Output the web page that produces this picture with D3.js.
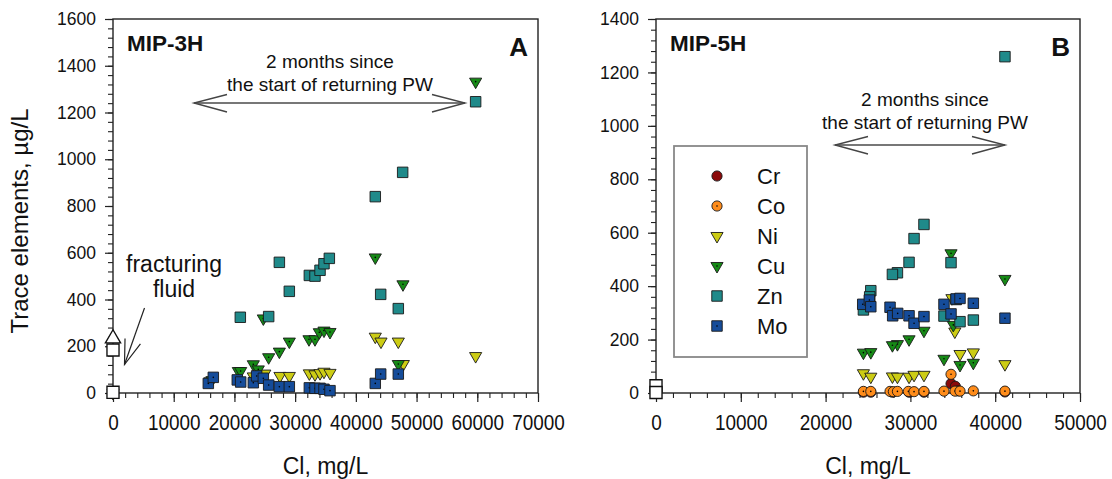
<!DOCTYPE html>
<html>
<head>
<meta charset="utf-8">
<script src="https://cdn.jsdelivr.net/npm/d3@7"></script>
<style>
  html, body { margin: 0; padding: 0; background: #fff; }
  svg { display: block; }
  text { font-family: "Liberation Sans", Arial, sans-serif; fill: #111; }
</style>
</head>
<body>
<svg id="chart" width="1112" height="479"></svg>
<script>
// ---------------- DATA ----------------
const elements = ["Cr", "Co", "Ni", "Cu", "Zn", "Mo"];

const xTicksA = [0, 10000, 20000, 30000, 40000, 50000, 60000, 70000];
const yTicksA = [0, 200, 400, 600, 800, 1000, 1200, 1400, 1600];
const xTicksB = [0, 10000, 20000, 30000, 40000, 50000];
const yTicksB = [0, 200, 400, 600, 800, 1000, 1200, 1400];

// MIP-3H  [Cl mg/L, value µg/L]
const mip3H_Cr = [];
const mip3H_Co = [];
const mip3H_Ni = [[59730,158],[43200,241],[44140,220],[46990,220],[47820,124],[27500,73],[29040,73],
  [32340,84],[33270,80],[34100,85],[34750,91],[35740,86],[23110,71],[25000,83],[16000,50],[0,0]];
const mip3H_Cu = [[59730,1332],[43200,580],[47760,465],[24760,319],[29040,220],[27400,177],[25640,153],
  [32280,230],[33270,230],[33980,260],[34750,267],[35740,261],[23110,123],[23930,101],[20640,94],
  [21030,94],[46990,124],[16300,55]];
const mip3H_Zn = [[20970,324],[25640,327],[27400,559],[29040,435],[32340,503],[33270,500],[34100,525],
  [34750,553],[35630,576],[43200,840],[47710,944],[44090,422],[46990,361],[59730,1246]];
const mip3H_Mo = [[15700,41],[16520,67],[20470,56],[21030,47],[23110,44],[23660,73],[24760,63],
  [25640,34],[27400,27],[29040,27],[32340,22],[33270,20],[34100,20],[34750,16],[35740,10],
  [43200,41],[44090,81],[46990,81]];
const mip3H_fluidTri = [[0,233]];
const mip3H_fluidSq = [[0,184],[0,3]];

// MIP-5H
const mip5H_Cr = [[24460,3],[25330,3],[27880,3],[29840,3],[31600,3],[34790,35],[35300,25],[35600,8],[41150,4]];
const mip5H_Co = [[24460,6],[25330,6],[27600,6],[27990,5],[28470,6],[29760,6],[30430,5],[31600,6],
  [33960,7],[34790,70],[35260,7],[35850,7],[37420,8],[41150,7]];
const mip5H_Ni = [[24460,74],[25330,61],[27880,62],[28470,61],[29840,61],[30430,68],[31600,68],
  [35240,230],[35850,146],[37420,152],[41150,108],[34900,355]];
const mip5H_Cu = [[34790,523],[41150,427],[31600,233],[29840,201],[28470,183],[27880,179],[24460,151],
  [25330,153],[33960,128],[35850,105],[37420,113],[35060,255]];
const mip5H_Zn = [[31600,631],[30430,578],[29840,489],[28470,450],[27880,444],[25330,383],[24460,311],
  [34790,488],[33960,288],[35850,267],[37420,273],[41150,1259],[35400,350],[25200,360]];
const mip5H_Mo = [[24380,332],[25160,348],[25330,323],[27600,321],[27910,289],[28500,298],[29840,289],
  [30430,261],[31600,286],[33960,332],[34790,296],[35380,352],[35850,354],[37420,336],[41150,280]];
const mip5H_fluidSq = [[0,27],[0,2]];

// ---------------- STYLE ----------------
const style = {
  Cr: { shape: "circle", fill: "#8b0a0a", dot: false },
  Co: { shape: "circle", fill: "#ff8c1a", dot: true },
  Ni: { shape: "tri",    fill: "#cccc14", dot: false },
  Cu: { shape: "tri",    fill: "#168a16", dot: true },
  Zn: { shape: "square", fill: "#1f8a8a", dot: false },
  Mo: { shape: "square", fill: "#154c9a", dot: true }
};
const symGen = {
  circle: d3.symbol(d3.symbolCircle, 82)(),
  tri: d3.symbol(d3.symbolTriangle, 64)(),
  square: d3.symbol(d3.symbolSquare, 110)()
};

const svg = d3.select("#chart");

function drawMarker(g, x, y, shape, fill, dot) {
  const m = g.append("g").attr("transform", `translate(${x},${y})`);
  m.append("path")
    .attr("d", symGen[shape])
    .attr("transform", shape === "tri" ? "rotate(180)" : null)
    .attr("fill", fill)
    .attr("stroke", "#1a1a1a")
    .attr("stroke-width", 0.9);
  if (dot) m.append("circle").attr("r", 0.8).attr("fill", "#000");
}

function drawPanel(cfg) {
  const x = d3.scaleLinear().domain(cfg.xDomain).range([cfg.left, cfg.right]);
  const y = d3.scaleLinear().domain(cfg.yDomain).range([cfg.bottom, cfg.top]);
  const g = svg.append("g");

  // minor ticks
  const xMinor = d3.range(cfg.xDomain[0], cfg.xDomain[1] + 1, 2000);
  const yMinor = d3.range(cfg.yDomain[0], cfg.yDomain[1] + 1, 40);
  g.append("g").attr("transform", `translate(0,${cfg.bottom})`)
    .call(d3.axisBottom(x).tickValues(xMinor).tickSize(5).tickSizeOuter(0).tickFormat(""))
    .call(a => a.select(".domain").remove())
    .selectAll("line").attr("stroke", "#222").attr("stroke-width", 1.1);
  g.append("g").attr("transform", `translate(${cfg.left},0)`)
    .call(d3.axisLeft(y).tickValues(yMinor).tickSize(5).tickSizeOuter(0).tickFormat(""))
    .call(a => a.select(".domain").remove())
    .selectAll("line").attr("stroke", "#222").attr("stroke-width", 1.1);

  // major ticks
  const xa = g.append("g").attr("transform", `translate(0,${cfg.bottom})`)
    .call(d3.axisBottom(x).tickValues(cfg.xTicks).tickSize(9).tickSizeOuter(0).tickPadding(12).tickFormat(d3.format("d")));
  xa.select(".domain").remove();
  xa.selectAll("line").attr("stroke", "#222").attr("stroke-width", 1.2);
  xa.selectAll("text").attr("font-size", 22).attr("fill", "#111").attr("dy", "0.71em")
    .attr("transform", "scale(0.86,1)");

  const ya = g.append("g").attr("transform", `translate(${cfg.left},0)`)
    .call(d3.axisLeft(y).tickValues(cfg.yTicks).tickSize(8).tickSizeOuter(0).tickPadding(9).tickFormat(d3.format("d")));
  ya.select(".domain").remove();
  ya.selectAll("line").attr("stroke", "#222").attr("stroke-width", 1.2);
  ya.selectAll("text").attr("font-size", 17.5).attr("fill", "#111");

  // frame
  g.append("rect")
    .attr("x", cfg.left).attr("y", cfg.top)
    .attr("width", cfg.right - cfg.left).attr("height", cfg.bottom - cfg.top)
    .attr("fill", "none").attr("stroke", "#222").attr("stroke-width", 1.4);

  // series
  const pts = g.append("g");
  cfg.series.forEach(([name, data]) => {
    const s = style[name];
    data.forEach(d => drawMarker(pts, x(d[0]), y(d[1]), s.shape, s.fill, s.dot));
  });
  // fracturing fluid (open symbols)
  (cfg.fluidTri || []).forEach(d => {
    pts.append("path").attr("d", symGen.tri)
      .attr("transform", `translate(${x(d[0])},${y(d[1])}) scale(1.25)`)
      .attr("fill", "#fff").attr("stroke", "#111").attr("stroke-width", 1.1);
  });
  (cfg.fluidSq || []).forEach(d => {
    pts.append("path").attr("d", symGen.square)
      .attr("transform", `translate(${x(d[0])},${y(d[1])}) scale(1.15)`)
      .attr("fill", "#fff").attr("stroke", "#111").attr("stroke-width", 1.2);
  });

  // labels
  g.append("text").attr("x", cfg.left + 14).attr("y", 51)
    .attr("font-size", 22.5).attr("font-weight", "bold").text(cfg.name);
  g.append("text").attr("x", cfg.right - 10).attr("y", 56).attr("text-anchor", "end")
    .attr("font-size", 26).attr("font-weight", "bold").text(cfg.letter);

  // 2 months annotation
  const ann = cfg.ann;
  g.append("text").attr("x", ann.cx).attr("y", ann.y1).attr("text-anchor", "middle")
    .attr("font-size", 19).text("2 months since");
  g.append("text").attr("x", ann.cx).attr("y", ann.y1 + 23).attr("text-anchor", "middle")
    .attr("font-size", 19).text("the start of returning PW");
  const ag = g.append("g").attr("stroke", "#444").attr("fill", "none").attr("stroke-width", 1.4);
  ag.append("line").attr("x1", ann.x0).attr("x2", ann.x1).attr("y1", ann.ay).attr("y2", ann.ay)
    .attr("stroke", "#777").attr("stroke-width", 2.2);
  ag.append("path").attr("d", `M${ann.x0 + 33},${ann.ay - 8.5} L${ann.x0},${ann.ay} L${ann.x0 + 33},${ann.ay + 9}`);
  ag.append("path").attr("d", `M${ann.x1 - 33},${ann.ay - 8.5} L${ann.x1},${ann.ay} L${ann.x1 - 33},${ann.ay + 9}`);

  // x axis title
  g.append("text").attr("x", (cfg.left + cfg.right) / 2).attr("y", 474).attr("text-anchor", "middle")
    .attr("font-size", 23).text("Cl, mg/L");
  return { x, y, g };
}

const pA = drawPanel({
  name: "MIP-3H", letter: "A",
  left: 113, right: 538, top: 19, bottom: 393,
  xDomain: [0, 70000], yDomain: [0, 1600], xTicks: xTicksA, yTicks: yTicksA,
  series: [["Cr", mip3H_Cr], ["Co", mip3H_Co], ["Ni", mip3H_Ni], ["Cu", mip3H_Cu], ["Zn", mip3H_Zn], ["Mo", mip3H_Mo]],
  fluidTri: mip3H_fluidTri, fluidSq: mip3H_fluidSq,
  ann: { cx: 330, y1: 68, x0: 194, x1: 465, ay: 103 }
});

const pB = drawPanel({
  name: "MIP-5H", letter: "B",
  left: 656, right: 1080, top: 19, bottom: 393,
  xDomain: [0, 50000], yDomain: [0, 1400], xTicks: xTicksB, yTicks: yTicksB,
  series: [["Cr", mip5H_Cr], ["Co", mip5H_Co], ["Ni", mip5H_Ni], ["Cu", mip5H_Cu], ["Zn", mip5H_Zn], ["Mo", mip5H_Mo]],
  fluidSq: mip5H_fluidSq,
  ann: { cx: 925, y1: 106, x0: 835, x1: 1005, ay: 145 }
});

// y axis title
svg.append("text").attr("transform", "translate(28,221) rotate(-90)").attr("text-anchor", "middle")
  .attr("font-size", 24).text("Trace elements, µg/L");

// fracturing fluid annotation
svg.append("text").attr("x", 174).attr("y", 272).attr("text-anchor", "middle").attr("font-size", 23).text("fracturing");
svg.append("text").attr("x", 174).attr("y", 297).attr("text-anchor", "middle").attr("font-size", 23).text("fluid");
(function () {
  const sx = 144.5, sy = 308, tx = 124.5, ty = 364.5;
  const ang = Math.atan2(sy - ty, sx - tx);
  const L = 26, da = 0.32;
  const ff = svg.append("g").attr("stroke", "#222").attr("fill", "none").attr("stroke-width", 1.2);
  ff.append("line").attr("x1", sx).attr("y1", sy).attr("x2", tx).attr("y2", ty);
  ff.append("path").attr("d",
    `M${tx + L * Math.cos(ang + da)},${ty + L * Math.sin(ang + da)} L${tx},${ty} L${tx + L * Math.cos(ang - da)},${ty + L * Math.sin(ang - da)}`);
})();

// legend (panel B)
const lg = svg.append("g");
lg.append("rect").attr("x", 674).attr("y", 146).attr("width", 133).attr("height", 211)
  .attr("fill", "#fff").attr("stroke", "#888").attr("stroke-width", 1.8);
const legY = d3.scalePoint().domain(elements).range([176, 326]);
elements.forEach(e => {
  const s = style[e];
  drawMarker(lg, 717, legY(e), s.shape, s.fill, s.dot);
  lg.append("text").attr("x", 757).attr("y", legY(e) + 8).attr("font-size", 22).text(e);
});
</script>
</body>
</html>
